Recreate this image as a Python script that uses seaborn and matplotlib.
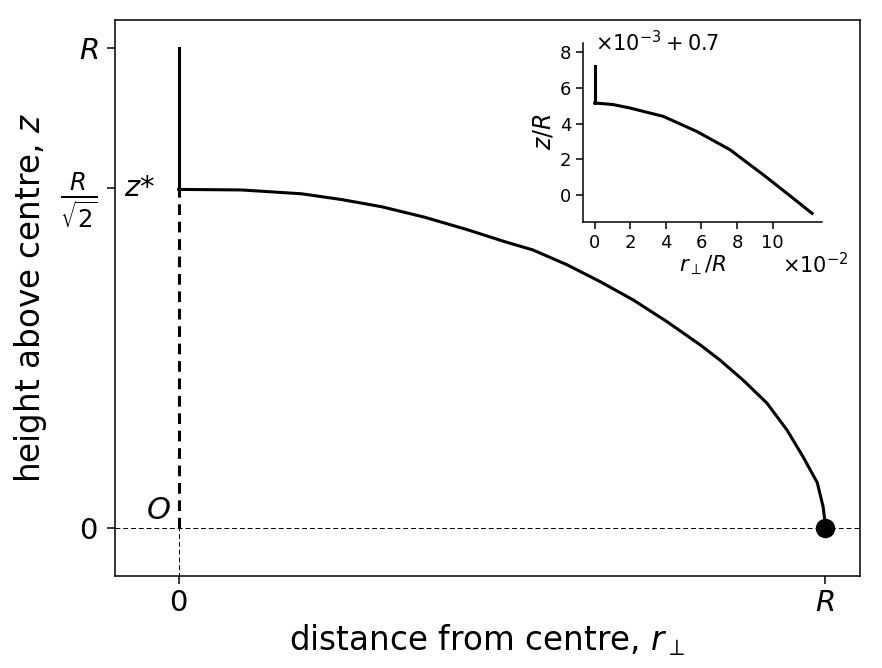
import numpy as np
import pandas as pd
import matplotlib
matplotlib.use("Agg")
import matplotlib.pyplot as plt
import seaborn as sns

# main trajectory (units of R)
r_perp = [0.0, 0.097, 0.190, 0.252, 0.314, 0.381, 0.447, 0.505, 0.548, 0.601,
          0.652, 0.703, 0.755, 0.807, 0.837, 0.873, 0.910, 0.941, 0.966, 0.988,
          0.997, 0.9995, 1.0]
z_height = [0.7051, 0.7040, 0.696, 0.684, 0.669, 0.647, 0.621, 0.596, 0.579, 0.548,
            0.513, 0.475, 0.430, 0.381, 0.350, 0.308, 0.260, 0.204, 0.148, 0.094,
            0.044, 0.017, 0.0]
z_star = 1 / np.sqrt(2)

# inset: r in units of 1e-2 R, z as (z/R - 0.7) in units of 1e-3
inset_r = [0.0, 1.03, 1.97, 3.85, 5.73, 7.61, 9.49, 10.81, 12.22]
inset_z = [5.15, 5.06, 4.87, 4.40, 3.56, 2.53, 1.12, 0.09, -1.03]
inset_vert_z = [5.15, 7.21]

ytick_vals = [0, z_star, 1]
ytick_labels = ["0", r"$\frac{R}{\sqrt{2}}$", "$R$"]
xtick_vals = [0, 1]
xtick_labels = ["0", "$R$"]

df = pd.DataFrame({"r": r_perp, "z": z_height})
df_in = pd.DataFrame({"r": inset_r, "z": inset_z})

fig = plt.figure(figsize=(8.82, 6.68), dpi=100)
ax = fig.add_axes([0.130, 0.138, 0.845, 0.832])

# guide lines
ax.axhline(0, color="black", lw=0.7, ls=(0, (5, 3)))
ax.plot([0, 0], [-0.2, 0], color="black", lw=0.7, ls=(0, (5, 3)))
ax.plot([0, 0], [0, z_star], color="black", lw=2.2, ls=(0, (3.5, 2.2)))
ax.plot([0, 0], [z_height[0], 1], color="black", lw=2.2)

sns.lineplot(data=df, x="r", y="z", sort=False, estimator=None, color="black",
             lw=2.2, ax=ax)
ax.plot([r_perp[-1]], [z_height[-1]], "o", color="black", ms=13, zorder=5)

ax.text(-0.012, 0.037, "$O$", fontsize=22, ha="right", va="center")
ax.text(-0.037, z_star, "$z$*", fontsize=21, ha="right", va="center")

ax.set_xlim(-0.099, 1.054)
ax.set_ylim(-0.1, 1.058)
ax.set_xticks(xtick_vals)
ax.set_xticklabels(xtick_labels)
ax.set_yticks(ytick_vals)
ax.set_yticklabels(ytick_labels)
ax.tick_params(labelsize=21, length=6, width=1.1)
ax.tick_params(axis="y", pad=6)
ax.get_yticklabels()[1].set_fontsize(25)
ax.set_xlabel(r"distance from centre, $r_{\perp}$", fontsize=23.5)
ax.set_ylabel("height above centre, $z$", fontsize=23.5, labelpad=8)
for s in ax.spines.values():
    s.set_linewidth(1.1)

# inset
axi = fig.add_axes([0.661, 0.668, 0.271, 0.268])
sns.lineplot(data=df_in, x="r", y="z", sort=False, estimator=None, color="black",
             lw=2.2, ax=axi)
axi.plot([inset_r[0], inset_r[0]], inset_vert_z, color="black", lw=2.2)
axi.set_xlim(-0.66, 12.78)
axi.set_ylim(-1.5, 8.52)
axi.set_xticks([0, 2, 4, 6, 8, 10])
axi.set_yticks([0, 2, 4, 6, 8])
axi.spines["top"].set_visible(False)
axi.spines["right"].set_visible(False)
axi.tick_params(labelsize=13, length=5, width=1.1)
axi.set_xlabel(r"$r_{\perp}/R$", fontsize=15.5, labelpad=1)
axi.set_ylabel("$z/R$", fontsize=17, labelpad=3)
axi.text(0.05, 1.0, r"$\times10^{-3}+0.7$", transform=axi.transAxes,
         fontsize=15, ha="left", va="center")
axi.text(1.11, -0.24, r"$\times10^{-2}$", transform=axi.transAxes,
         fontsize=15, ha="right", va="center")
for s in axi.spines.values():
    s.set_linewidth(1.1)

fig.savefig("out.png", dpi=100)
